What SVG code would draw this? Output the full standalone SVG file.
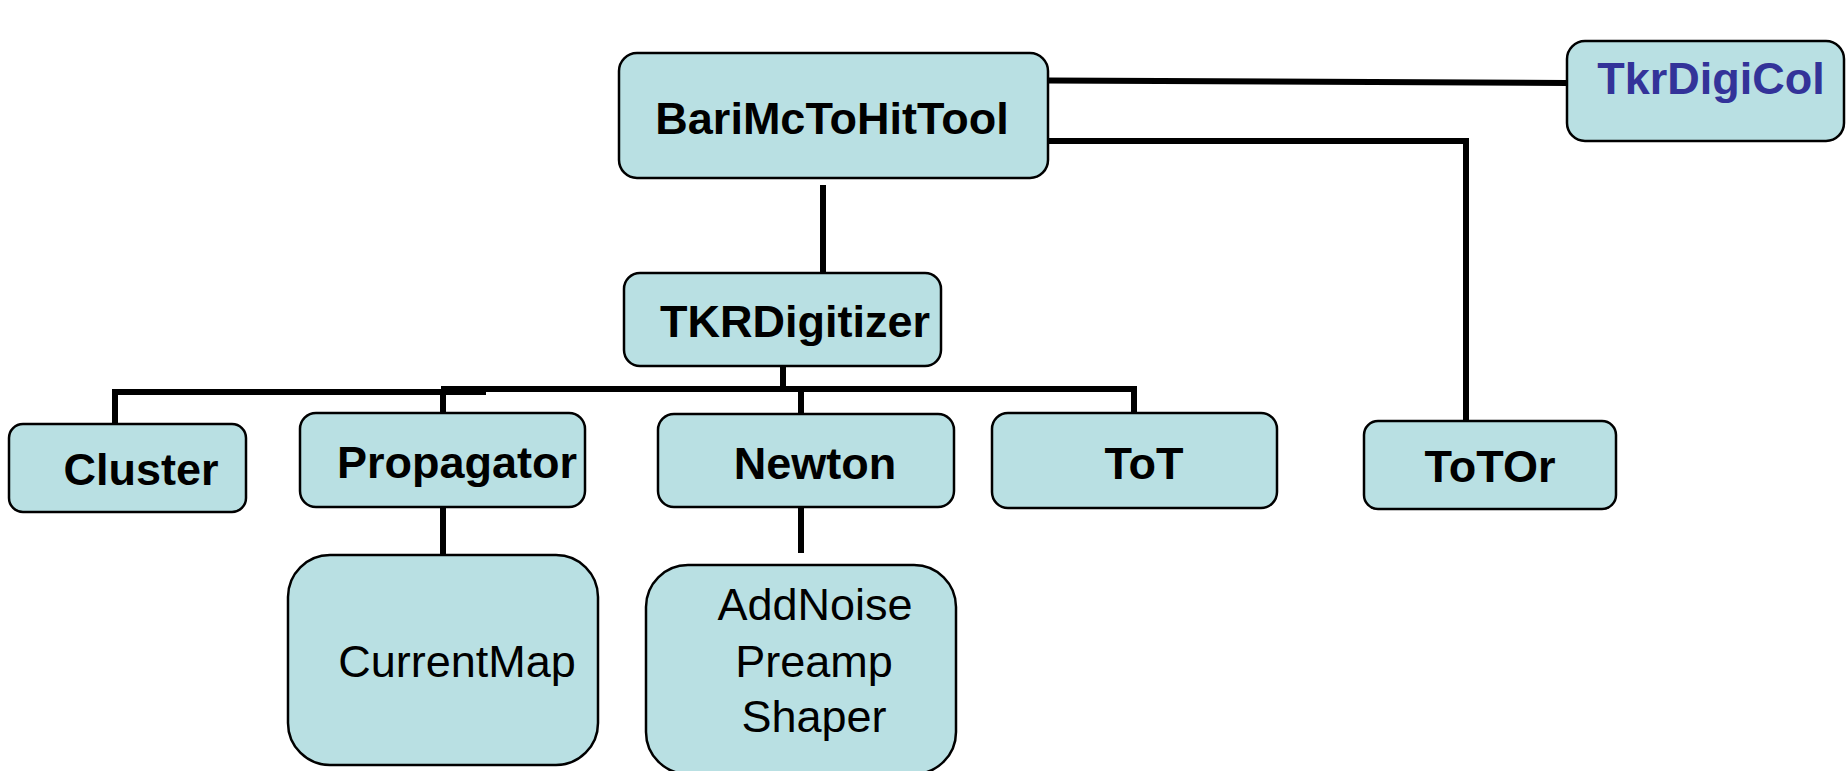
<svg xmlns="http://www.w3.org/2000/svg" width="1846" height="771" viewBox="0 0 1846 771">
<style>
.box{fill:#B9E0E3;stroke:#000;stroke-width:2.5}
.lbl{font-family:"Liberation Sans",Arial,sans-serif;font-size:45px;font-weight:bold;fill:#000;text-anchor:middle}
.reg{font-family:"Liberation Sans",Arial,sans-serif;font-size:45px;fill:#000;text-anchor:middle}
.conn{fill:none;stroke:#000;stroke-width:6}
</style>
<rect width="1846" height="771" fill="#fff"/>
<g id="connectors">
<path class="conn" d="M1048,80.5 L1567,83"/>
<path class="conn" d="M1048,141 L1466,141 L1466,421" stroke-linejoin="miter"/>
<path class="conn" d="M823,185 L823,273"/>
<path class="conn" d="M783,366 L783,392"/>
<path class="conn" d="M115,424 L115,392 L486,392"/>
<path class="conn" d="M441,389 L1134,389 L1134,413"/>
<path class="conn" d="M443,389 L443,413"/>
<path class="conn" d="M801,389 L801,414"/>
<path class="conn" d="M443,507 L443,555"/>
<path class="conn" d="M801,508 L801,553"/>
</g>
<g id="n-barimc">
<rect class="box" x="619" y="53" width="429" height="125" rx="18"/>
<text class="lbl" x="832" y="134">BariMcToHitTool</text>
</g>
<g id="n-tkrdigicol">
<rect class="box" x="1567" y="41" width="277" height="100" rx="18"/>
<text class="lbl" x="1711" y="94" style="fill:#333399">TkrDigiCol</text>
</g>
<g id="n-tkrdigitizer">
<rect class="box" x="624" y="273" width="317" height="93" rx="16"/>
<text class="lbl" x="795" y="337">TKRDigitizer</text>
</g>
<g id="n-cluster">
<rect class="box" x="9" y="424" width="237" height="88" rx="14"/>
<text class="lbl" x="141" y="485">Cluster</text>
</g>
<g id="n-propagator">
<rect class="box" x="300" y="413" width="285" height="94" rx="16"/>
<text class="lbl" x="457" y="478">Propagator</text>
</g>
<g id="n-newton">
<rect class="box" x="658" y="414" width="296" height="93" rx="16"/>
<text class="lbl" x="815" y="479">Newton</text>
</g>
<g id="n-tot">
<rect class="box" x="992" y="413" width="285" height="95" rx="16"/>
<text class="lbl" x="1144" y="479">ToT</text>
</g>
<g id="n-totor">
<rect class="box" x="1364" y="421" width="252" height="88" rx="14"/>
<text class="lbl" x="1490" y="482">ToTOr</text>
</g>
<g id="n-currentmap">
<rect class="box" x="288" y="555" width="310" height="210" rx="42"/>
<text class="reg" x="457" y="677">CurrentMap</text>
</g>
<g id="n-addnoise">
<rect class="box" x="646" y="565" width="310" height="209" rx="42"/>
<text class="reg" x="815" y="620">AddNoise</text>
<text class="reg" x="814" y="677">Preamp</text>
<text class="reg" x="814" y="732">Shaper</text>
</g>
</svg>
